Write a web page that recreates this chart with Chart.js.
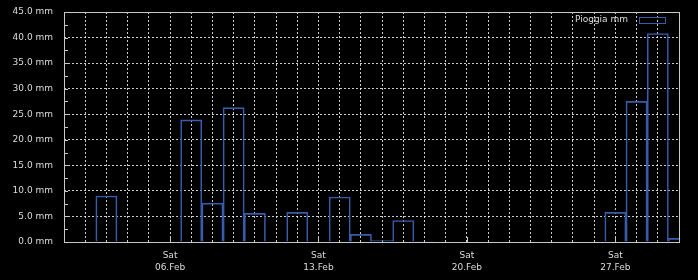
<!DOCTYPE html>
<html>
<head>
<meta charset="utf-8">
<script src="https://cdn.jsdelivr.net/npm/chart.js@4"></script>
<style>
  html, body { margin: 0; padding: 0; background: #000; }
  #wrap { width: 698px; height: 280px; }
</style>
</head>
<body>
<div id="wrap"><canvas id="myChart" width="698" height="280"></canvas></div>
<script>
// one entry per day, 01.Feb ... 02.Mar
const days = [
  "01.Feb", "02.Feb", "03.Feb", "04.Feb", "05.Feb", "06.Feb", "07.Feb",
  "08.Feb", "09.Feb", "10.Feb", "11.Feb", "12.Feb", "13.Feb", "14.Feb",
  "15.Feb", "16.Feb", "17.Feb", "18.Feb", "19.Feb", "20.Feb", "21.Feb",
  "22.Feb", "23.Feb", "24.Feb", "25.Feb", "26.Feb", "27.Feb", "28.Feb",
  "01.Mar", "02.Mar",
]
const weekdays = [
  "Mon", "Tue", "Wed", "Thu", "Fri", "Sat", "Sun",
  "Mon", "Tue", "Wed", "Thu", "Fri", "Sat", "Sun",
  "Mon", "Tue", "Wed", "Thu", "Fri", "Sat", "Sun",
  "Mon", "Tue", "Wed", "Thu", "Fri", "Sat", "Sun",
  "Mon", "Tue",
]
const rain = [
  null, null, 9.0, null, null, null, 23.9,
  7.6, 26.3, 5.6, null, 5.8, null, 8.8,
  1.5, 0.3, 4.2, 0.1, null, null, null,
  null, null, null, null, null, 5.8, 27.5,
  40.8, 0.7,
]
const labelDays = ["Sat"]
const yTicks = [0, 5, 10, 15, 20, 25, 30, 35, 40, 45]

const ctx = document.getElementById("myChart")
const barColor = "rgb(58, 90, 170)"
const textColor = "#dcdcdc"
const gridColor = "rgba(255,255,255,0.8)"
const font = { family: "DejaVu Sans", size: 9 }

// frame, inner ticks and legend drawn like the rrd style graph
const frame = {
  id: "frame",
  afterDatasetsDraw(chart) {
    const c = chart.ctx
    const a = chart.chartArea
    const x = chart.scales.x
    const y = chart.scales.y
    c.save()
    c.strokeStyle = "#c8c8c8"
    c.lineWidth = 1
    c.setLineDash([])
    c.beginPath()
    // minor y ticks every 2.5, major every 5
    for (let v = 0; v <= 45; v += 2.5) {
      const py = Math.round(y.getPixelForValue(v)) + 0.5
      c.moveTo(a.left, py)
      c.lineTo(a.left + 4, py)
    }
    days.forEach((d, i) => {
      if (!labelDays.includes(weekdays[i])) return
      const px = Math.round(x.getPixelForValue(i)) + 0.5
      c.moveTo(px, a.bottom)
      c.lineTo(px, a.bottom - 5)
    })
    c.stroke()
    c.strokeRect(Math.round(a.left) + 0.5, Math.round(a.top) + 0.5,
      Math.round(a.right - a.left), Math.round(a.bottom - a.top))

    // legend
    c.font = "9px 'DejaVu Sans'"
    c.fillStyle = textColor
    c.textAlign = "right"
    c.textBaseline = "middle"
    c.fillText(chart.data.datasets[0].label, a.right - 51, a.top + 8)
    c.strokeStyle = barColor
    c.strokeRect(a.right - 39.5, a.top + 5.5, 26, 6)
    c.restore()
  },
}

new Chart(ctx, {
  type: "bar",
  data: {
    datasets: [
      {
        label: "Pioggia mm",
        data: rain.map((v, i) => ({ x: i, y: v })),
        backgroundColor: "rgba(0,0,0,0)",
        borderColor: barColor,
        borderWidth: 1,
        barPercentage: 1,
        categoryPercentage: 1,
        clip: 0,
      },
    ],
  },
  options: {
    responsive: false,
    animation: false,
    layout: { padding: { top: 12, right: 19, left: 0, bottom: 0 } },
    plugins: { legend: { display: false }, tooltip: { enabled: false } },
    scales: {
      x: {
        type: "linear",
        min: 0,
        max: days.length - 1,
        offset: false,
        afterFit: (s) => {
          s.height = 38
          s.paddingLeft = 0
          s.paddingRight = 0
        },
        afterBuildTicks: (s) => { s.ticks = days.map((d, i) => ({ value: i })) },
        grid: { color: gridColor, drawTicks: false, offset: false },
        border: { display: false, dash: [2, 2] },
        ticks: {
          autoSkip: false,
          maxRotation: 0,
          padding: 8,
          color: textColor,
          font: { ...font, lineHeight: 12 / 9 },
          callback: (v) => labelDays.includes(weekdays[v]) ? [weekdays[v], days[v]] : "",
        },
      },
      y: {
        min: 0,
        max: 45,
        afterFit: (s) => {
          s.width = 64
          s.paddingTop = 0
          s.paddingBottom = 0
        },
        afterBuildTicks: (s) => { s.ticks = yTicks.map((v) => ({ value: v })) },
        grid: { color: gridColor, drawTicks: false },
        border: { display: false, dash: [2, 2] },
        ticks: {
          padding: 11,
          color: textColor,
          font,
          callback: (v) => v.toFixed(1) + " mm",
        },
      },
    },
  },
  plugins: [frame],
})
</script>
</body>
</html>
